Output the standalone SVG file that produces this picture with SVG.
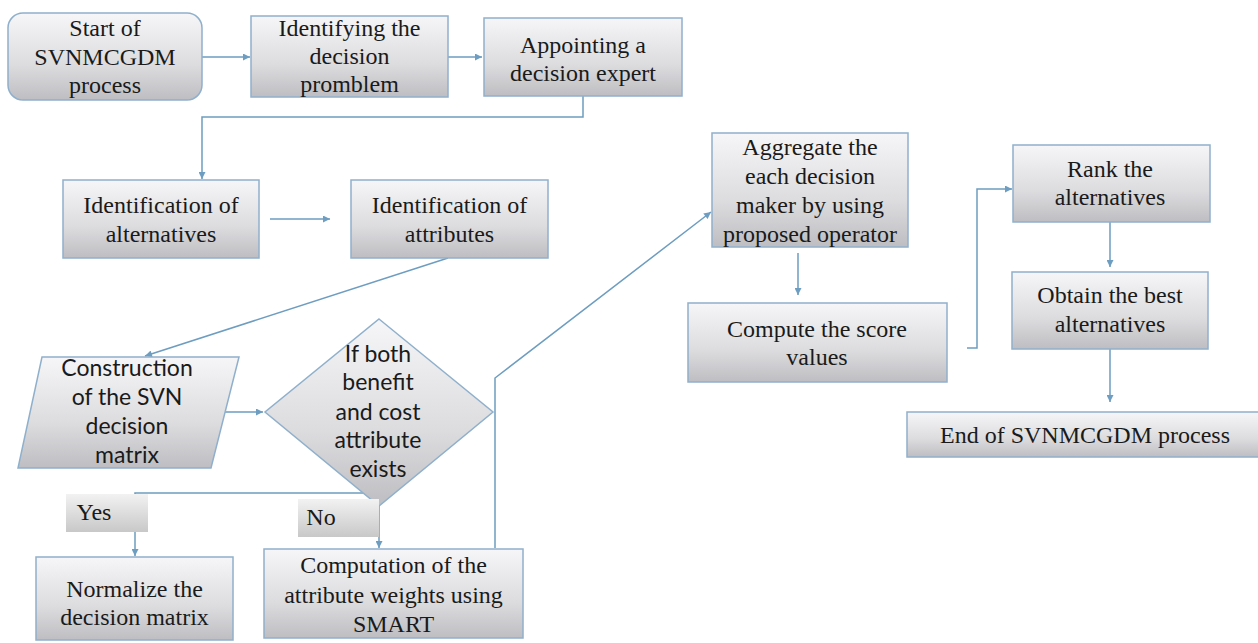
<svg xmlns="http://www.w3.org/2000/svg" width="1258" height="643" viewBox="0 0 1258 643">
<style>
.box{fill:url(#g);stroke:#8fb0cc;stroke-width:1.5}
.lbl{fill:url(#g2);stroke:none}
.t{font-family:"Liberation Serif","Times New Roman",serif;font-size:24px;fill:#1a1a1a;text-anchor:middle}
.s{font-family:Lato,Carlito,"Liberation Sans",sans-serif;font-size:23px;fill:#1a1a1a;text-anchor:middle}
.c{fill:none;stroke:#6d9dc0;stroke-width:1.5}
.a{marker-end:url(#arr)}
</style>
<defs>
<linearGradient id="g" x1="0" y1="0" x2="0" y2="1">
<stop offset="0" stop-color="#f6f6f8"/>
<stop offset="0.6" stop-color="#dcdcdf"/>
<stop offset="1" stop-color="#bebec2"/>
</linearGradient>
<linearGradient id="g2" x1="0" y1="0" x2="0" y2="1">
<stop offset="0" stop-color="#f2f2f2"/>
<stop offset="1" stop-color="#c8c8c8"/>
</linearGradient>
<marker id="arr" viewBox="0 0 10 10" refX="10" refY="5" markerWidth="8" markerHeight="7" markerUnits="userSpaceOnUse" orient="auto">
<path d="M0,0 L10,5 L0,10 z" fill="#6d9dc0"/>
</marker>
</defs>
<rect width="1258" height="643" fill="#ffffff"/>
<g id="connectors">
<path class="c a" d="M202 57 H250"/>
<path class="c a" d="M448 57 H482"/>
<path class="c a" d="M583 96 V117 H202 V179"/>
<path class="c a" d="M270 219 H330"/>
<path class="c a" d="M448 258 L145 356"/>
<path class="c a" d="M222 412 H263"/>
<path class="c a" d="M363 493 H135 V556"/>
<path class="c a" d="M379 506 V548"/>
<path class="c a" d="M495 548 V378 L711 212"/>
<path class="c a" d="M798 253 V295"/>
<path class="c a" d="M967 348 H977 V189 H1012"/>
<path class="c a" d="M1110 222 V267"/>
<path class="c a" d="M1110 349 V402"/>
</g>
<g id="start">
<rect class="box" x="8" y="13" width="194" height="87" rx="15"/>
<text class="t" x="105" y="36">Start of</text>
<text class="t" x="105" y="65">SVNMCGDM</text>
<text class="t" x="105" y="93">process</text>
</g>
<g id="identify-problem">
<rect class="box" x="251" y="16" width="197" height="81"/>
<text class="t" x="349.5" y="36">Identifying the</text>
<text class="t" x="349.5" y="64">decision</text>
<text class="t" x="349.5" y="92">promblem</text>
</g>
<g id="appoint-expert">
<rect class="box" x="484" y="18" width="198" height="78"/>
<text class="t" x="583" y="53">Appointing a</text>
<text class="t" x="583" y="81">decision expert</text>
</g>
<g id="identify-alternatives">
<rect class="box" x="63" y="180" width="196" height="78"/>
<text class="t" x="161" y="213">Identification of</text>
<text class="t" x="161" y="242">alternatives</text>
</g>
<g id="identify-attributes">
<rect class="box" x="351" y="180" width="197" height="78"/>
<text class="t" x="449.5" y="213">Identification of</text>
<text class="t" x="449.5" y="242">attributes</text>
</g>
<g id="construct-matrix">
<polygon class="box" points="42,357 239,357 211,468 18,468"/>
<text class="s" x="127" y="376">Construction</text>
<text class="s" x="127" y="405">of the SVN</text>
<text class="s" x="127" y="434">decision</text>
<text class="s" x="127" y="463">matrix</text>
</g>
<g id="decision">
<polygon class="box" points="379,319 493,412 379,506 265,412"/>
<text class="s" x="378" y="362">If both</text>
<text class="s" x="378" y="390">benefit</text>
<text class="s" x="378" y="420">and cost</text>
<text class="s" x="378" y="448">attribute</text>
<text class="s" x="378" y="477">exists</text>
</g>
<g id="yes-label">
<rect class="lbl" x="66" y="494" width="82" height="38"/>
<text class="t" x="94" y="520">Yes</text>
</g>
<g id="no-label">
<rect class="lbl" x="298" y="499" width="81" height="38"/>
<text class="t" x="321" y="525">No</text>
</g>
<g id="normalize">
<rect class="box" x="36" y="557" width="197" height="83"/>
<text class="t" x="134.5" y="597">Normalize the</text>
<text class="t" x="134.5" y="625">decision matrix</text>
</g>
<g id="smart-weights">
<rect class="box" x="264" y="549" width="259" height="89"/>
<text class="t" x="393.5" y="573">Computation of the</text>
<text class="t" x="393.5" y="603">attribute weights using</text>
<text class="t" x="393.5" y="632">SMART</text>
</g>
<g id="aggregate">
<rect class="box" x="712" y="133" width="196" height="114"/>
<text class="t" x="810" y="155">Aggregate the</text>
<text class="t" x="810" y="184">each decision</text>
<text class="t" x="810" y="213">maker by using</text>
<text class="t" x="810" y="242">proposed operator</text>
</g>
<g id="score-values">
<rect class="box" x="688" y="303" width="259" height="79"/>
<text class="t" x="817" y="337">Compute the score</text>
<text class="t" x="817" y="365">values</text>
</g>
<g id="rank">
<rect class="box" x="1013" y="145" width="197" height="77"/>
<text class="t" x="1110" y="177">Rank the</text>
<text class="t" x="1110" y="205">alternatives</text>
</g>
<g id="best">
<rect class="box" x="1012" y="272" width="196" height="77"/>
<text class="t" x="1110" y="303">Obtain the best</text>
<text class="t" x="1110" y="332">alternatives</text>
</g>
<g id="end">
<rect class="box" x="907" y="412" width="360" height="45"/>
<text class="t" x="1085" y="443">End of SVNMCGDM process</text>
</g>
</svg>
